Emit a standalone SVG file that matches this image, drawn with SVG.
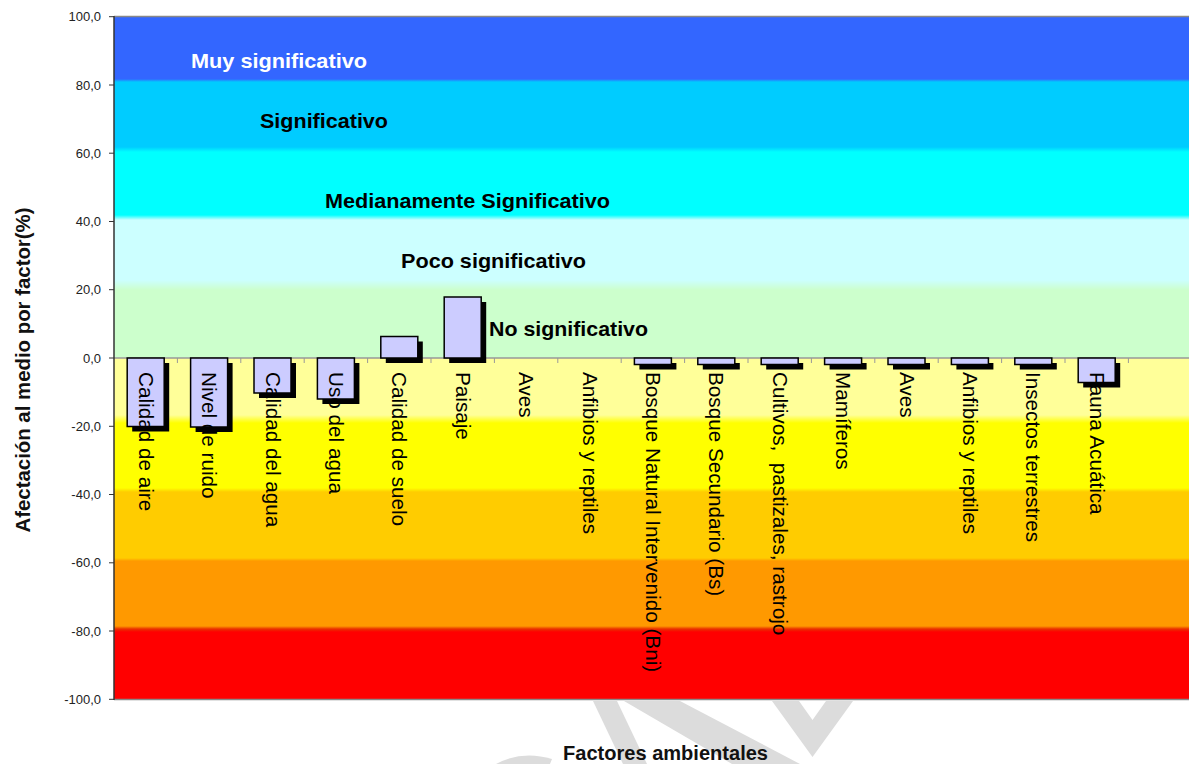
<svg xmlns="http://www.w3.org/2000/svg" width="1189" height="764" viewBox="0 0 1189 764">
<defs>
<linearGradient id="bands" gradientUnits="userSpaceOnUse" x1="0" y1="17" x2="0" y2="699">
<stop offset="0" stop-color="#3366FF"/>
<stop offset="0.0909" stop-color="#3366FF"/>
<stop offset="0.0953" stop-color="#00CCFF"/>
<stop offset="0.1906" stop-color="#00CCFF"/>
<stop offset="0.1980" stop-color="#00FFFF"/>
<stop offset="0.2903" stop-color="#00FFFF"/>
<stop offset="0.2977" stop-color="#CCFFFF"/>
<stop offset="0.3856" stop-color="#CCFFFF"/>
<stop offset="0.4003" stop-color="#CCFFCC"/>
<stop offset="0.5000" stop-color="#CCFFCC"/>
<stop offset="0.5001" stop-color="#FFFF99"/>
<stop offset="0.5836" stop-color="#FFFF99"/>
<stop offset="0.5953" stop-color="#FFFF00"/>
<stop offset="0.6906" stop-color="#FFFF00"/>
<stop offset="0.6965" stop-color="#FFCC00"/>
<stop offset="0.7933" stop-color="#FFCC00"/>
<stop offset="0.7977" stop-color="#FF9900"/>
<stop offset="0.8930" stop-color="#FF9900"/>
<stop offset="0.8974" stop-color="#E83000"/>
<stop offset="0.9018" stop-color="#FF0000"/>
<stop offset="1" stop-color="#FF0000"/>
</linearGradient>
<style>
.bar{fill:#CCCCFF;stroke:#000;stroke-width:1.5}
.shadow{fill:#000}
.lbl{font-family:"Liberation Sans",Arial,sans-serif;font-size:20.7px;fill:#000}
.band{font-family:"Liberation Sans",Arial,sans-serif;font-size:20.5px;font-weight:bold;fill:#000}
.tick{font-family:"Liberation Sans",Arial,sans-serif;font-size:13px;fill:#222;text-anchor:end}
.title{font-family:"Liberation Sans",Arial,sans-serif;font-size:19.5px;font-weight:bold;fill:#111}
.wm{fill:#DCDCDC}
</style>
</defs>
<rect width="1189" height="764" fill="#FFFFFF"/>
<g id="watermark">
<polygon class="wm" points="593,701 617,701 647,764 623,764"/>
<polygon class="wm" points="624,701 680,701 800,764 732,764"/>
<polygon class="wm" points="772,701 799,701 812.5,720 826,701 853,701 812.5,757"/>
<path class="wm" d="M496 764 Q522 750 552 759 L550 764 Z"/>
</g>
<g id="plot-area">
<rect x="114" y="17" width="1075" height="682" fill="url(#bands)"/>
<line x1="114" y1="16.5" x2="1189" y2="16.5" stroke="#888" stroke-width="1.5"/>
<line x1="114" y1="699.5" x2="1189" y2="699.5" stroke="#888" stroke-width="1.5"/>
</g>
<g id="band-labels">
<text class="band" x="191" y="68" fill="#FFFFFF" style="fill:#FFFFFF" textLength="176" lengthAdjust="spacingAndGlyphs">Muy significativo</text>
<text class="band" x="260" y="128" textLength="128" lengthAdjust="spacingAndGlyphs">Significativo</text>
<text class="band" x="325" y="208" textLength="285" lengthAdjust="spacingAndGlyphs">Medianamente Significativo</text>
<text class="band" x="401" y="268" textLength="185" lengthAdjust="spacingAndGlyphs">Poco significativo</text>
<text class="band" x="489" y="336" textLength="159" lengthAdjust="spacingAndGlyphs">No significativo</text>
</g>
<g id="axes">
<line x1="114" y1="358" x2="1189" y2="358" stroke="#999" stroke-width="1.5"/>
<path d="M177.4 358V363M240.8 358V363M304.2 358V363M367.6 358V363M431 358V363M494.4 358V363M557.8 358V363M621.2 358V363M684.6 358V363M748 358V363M811.4 358V363M874.8 358V363M938.2 358V363M1001.6 358V363M1065 358V363M1128.4 358V363" stroke="#999" stroke-width="1"/>
<line x1="114" y1="16" x2="114" y2="700" stroke="#333" stroke-width="1.5"/>
<path d="M109 16.7H114M109 85H114M109 153.2H114M109 221.5H114M109 289.7H114M109 358H114M109 426.3H114M109 494.5H114M109 562.8H114M109 631H114M109 699.3H114" stroke="#333" stroke-width="1"/>
<text class="tick" x="101" y="21">100,0</text>
<text class="tick" x="101" y="89.5">80,0</text>
<text class="tick" x="101" y="157.7">60,0</text>
<text class="tick" x="101" y="226">40,0</text>
<text class="tick" x="101" y="294.2">20,0</text>
<text class="tick" x="101" y="362.5">0,0</text>
<text class="tick" x="101" y="430.8">-20,0</text>
<text class="tick" x="101" y="499">-40,0</text>
<text class="tick" x="101" y="567.3">-60,0</text>
<text class="tick" x="101" y="635.5">-80,0</text>
<text class="tick" x="101" y="703.8">-100,0</text>
<text class="title" transform="translate(29.5,370) rotate(-90)" text-anchor="middle" textLength="325" lengthAdjust="spacingAndGlyphs">Afectación al medio por factor(%)</text>
<text class="title" x="563" y="760" textLength="205" lengthAdjust="spacingAndGlyphs">Factores ambientales</text>
</g>
<g id="bars">
<rect class="bar" x="127.2" y="358" width="37" height="68.5"/>
<rect class="bar" x="190.6" y="358" width="37" height="69"/>
<rect class="bar" x="254" y="358" width="37" height="35"/>
<rect class="bar" x="317.4" y="358" width="37" height="41"/>
<rect class="bar" x="380.8" y="336.5" width="37" height="21.5"/>
<rect class="bar" x="444.2" y="297" width="37" height="61"/>
<rect class="bar" x="634.4" y="358" width="37" height="6.5"/>
<rect class="bar" x="697.8" y="358" width="37" height="6.5"/>
<rect class="bar" x="761.2" y="358" width="37" height="6.5"/>
<rect class="bar" x="824.6" y="358" width="37" height="6.5"/>
<rect class="bar" x="888" y="358" width="37" height="6.5"/>
<rect class="bar" x="951.4" y="358" width="37" height="6.5"/>
<rect class="bar" x="1014.8" y="358" width="37" height="6.5"/>
<rect class="bar" x="1078.2" y="358" width="37" height="24.5"/>
</g>
<g id="category-labels">
<text class="lbl" transform="translate(138.7,372) rotate(90)">Calidad de aire</text>
<text class="lbl" transform="translate(202.1,372) rotate(90)">Nivel de ruido</text>
<text class="lbl" transform="translate(265.5,372) rotate(90)">Calidad del agua</text>
<text class="lbl" transform="translate(328.9,372) rotate(90)">Uso del agua</text>
<text class="lbl" transform="translate(392.3,372) rotate(90)">Calidad de suelo</text>
<text class="lbl" transform="translate(455.7,372) rotate(90)">Paisaje</text>
<text class="lbl" transform="translate(519.1,372) rotate(90)">Aves</text>
<text class="lbl" transform="translate(582.5,372) rotate(90)">Anfibios y reptiles</text>
<text class="lbl" transform="translate(645.9,372) rotate(90)">Bosque Natural Intervenido (Bni)</text>
<text class="lbl" transform="translate(709.3,372) rotate(90)">Bosque Secundario (Bs)</text>
<text class="lbl" transform="translate(772.7,372) rotate(90)" xml:space="preserve" style="white-space:pre">Cultivos,  pastizales, rastrojo</text>
<text class="lbl" transform="translate(836.1,372) rotate(90)">Mamíferos</text>
<text class="lbl" transform="translate(899.5,372) rotate(90)">Aves</text>
<text class="lbl" transform="translate(962.9,372) rotate(90)">Anfibios y reptiles</text>
<text class="lbl" transform="translate(1026.3,372) rotate(90)">Insectos terrestres</text>
<text class="lbl" transform="translate(1089.7,372) rotate(90)">Fauna Acuática</text>
</g>
<g id="bar-shadows">
<path class="shadow" d="M164.2 363H169.2V431.5H132.2V426.5H164.2Z"/>
<path class="shadow" d="M227.6 363H232.6V432H195.6V427H227.6Z"/>
<path class="shadow" d="M291 363H296V398H259V393H291Z"/>
<path class="shadow" d="M354.4 363H359.4V404H322.4V399H354.4Z"/>
<path class="shadow" d="M417.8 341.5H422.8V363H385.8V358H417.8Z"/>
<path class="shadow" d="M481.2 302H486.2V363H449.2V358H481.2Z"/>
<path class="shadow" d="M671.4 363H676.4V369.5H639.4V364.5H671.4Z"/>
<path class="shadow" d="M734.8 363H739.8V369.5H702.8V364.5H734.8Z"/>
<path class="shadow" d="M798.2 363H803.2V369.5H766.2V364.5H798.2Z"/>
<path class="shadow" d="M861.6 363H866.6V369.5H829.6V364.5H861.6Z"/>
<path class="shadow" d="M925 363H930V369.5H893V364.5H925Z"/>
<path class="shadow" d="M988.4 363H993.4V369.5H956.4V364.5H988.4Z"/>
<path class="shadow" d="M1051.8 363H1056.8V369.5H1019.8V364.5H1051.8Z"/>
<path class="shadow" d="M1115.2 363H1120.2V387.5H1083.2V382.5H1115.2Z"/>
</g>
</svg>
